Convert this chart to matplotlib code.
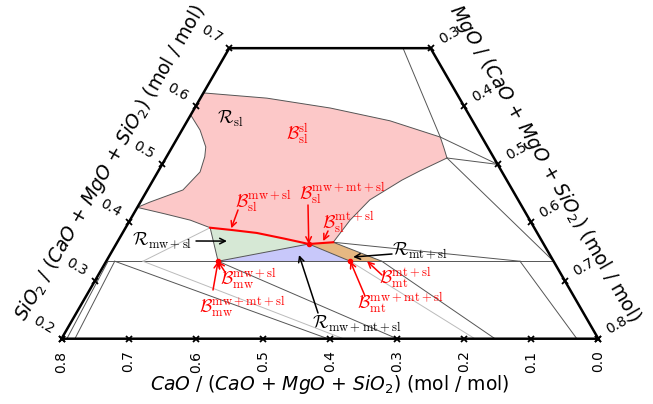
import numpy as np
import matplotlib
matplotlib.use('Agg')
import matplotlib.pyplot as plt

# Compositions are stored as (CaO, SiO2) mole fractions, MgO = 1 - CaO - SiO2
# liquid (sl) region, walked clockwise from the CaO-SiO2 edge
sl_top_cao = [0.377, 0.287, 0.201, 0.123, 0.062, 0.066, 0.070]
sl_top_sio2 = [0.623, 0.614, 0.597, 0.575, 0.547, 0.528, 0.511]
sl_right_cao = [0.070, 0.121, 0.156, 0.221, 0.268, 0.312]
sl_right_sio2 = [0.511, 0.489, 0.473, 0.439, 0.404, 0.366]
sl_red_cao = [0.312, 0.350, 0.381, 0.418, 0.452, 0.483]
sl_red_sio2 = [0.366, 0.363, 0.372, 0.382, 0.387, 0.391]
sl_left_cao = [0.483, 0.506, 0.539, 0.574]
sl_left_sio2 = [0.391, 0.404, 0.415, 0.426]
bulge_cao = [0.574, 0.551, 0.491, 0.450, 0.430, 0.420, 0.414, 0.415]
bulge_sio2 = [0.426, 0.435, 0.456, 0.487, 0.513, 0.530, 0.559, 0.585]

# invariant points and two-phase corners
p_mw = (0.500, 1 / 3)
p_sl3 = (0.350, 0.363)
p_mt = (0.303, 1 / 3)
p_mtsl = (0.312, 0.366)
p_mwsl = (0.483, 0.391)
p_mt_end = (0.256, 1 / 3)

# thin boundary / tie lines
tie_lines = [
    ([0.041, 0.062], [0.700, 0.547]),
    ([0.062, 0.000], [0.547, 0.500]),
    ([0.070, 0.000], [0.511, 0.500]),
    ([0.070, 0.000], [0.511, 1 / 3]),
    ([0.312, 0.050], [0.366, 1 / 3]),
    ([0.050, 0.032], [1 / 3, 0.200]),
    ([0.664, 0.000], [1 / 3, 1 / 3]),
    ([0.664, 0.792], [1 / 3, 0.200]),
    ([0.654, 0.780], [1 / 3, 0.200]),
    ([0.654, 0.403], [1 / 3, 0.200]),
    ([0.500, 0.300], [1 / 3, 0.200]),
    ([0.256, 0.154], [1 / 3, 0.200]),
]
faint_lines = [
    ([0.483, 0.612], [0.391, 1 / 3]),
    ([0.612, 0.380], [1 / 3, 0.200]),
    ([0.303, 0.184], [1 / 3, 0.200]),
]

cao_ticks = [0.8, 0.7, 0.6, 0.5, 0.4, 0.3, 0.2, 0.1, 0.0]
sio2_ticks = [0.2, 0.3, 0.4, 0.5, 0.6, 0.7]
mgo_ticks = [0.3, 0.4, 0.5, 0.6, 0.7, 0.8]

W, H = 653, 404


def xy(cao, sio2):
    cao = np.asarray(cao, dtype=float)
    sio2 = np.asarray(sio2, dtype=float)
    mgo = 1 - cao - sio2
    return mgo + 0.5 * sio2, np.sqrt(3) / 2 * sio2


def fr(px, py):
    # pixel position -> axes fraction, for placing labels
    return px / W, 1 - py / H


fig = plt.figure(figsize=(W / 100, H / 100), dpi=100)
ax = fig.add_axes([0, 0, 1, 1])
ax.set_xlim(0.00835, 0.9815)
ax.set_ylim(0.0759, 0.6780)
ax.set_aspect('equal')
ax.axis('off')

# phase regions
poly_c = sl_top_cao + sl_right_cao + sl_red_cao + sl_left_cao + bulge_cao
poly_s = sl_top_sio2 + sl_right_sio2 + sl_red_sio2 + sl_left_sio2 + bulge_sio2
ax.fill(*xy(poly_c, poly_s), color='#fcc8c8', lw=0)
for c, s in [(sl_top_cao, sl_top_sio2), (sl_right_cao, sl_right_sio2),
             (sl_left_cao, sl_left_sio2), (bulge_cao, bulge_sio2)]:
    ax.plot(*xy(c, s), color='#555555', lw=0.7)

red_c = sl_red_cao[1:]
red_s = sl_red_sio2[1:]
ax.fill(*xy(red_c + [p_mw[0]], red_s + [p_mw[1]]), color='#d6e8d5', lw=0)
ax.fill(*xy([p_sl3[0], p_mw[0], p_mt[0]], [p_sl3[1], p_mw[1], p_mt[1]]),
        color='#c8c8fa', lw=0)
ax.fill(*xy([p_sl3[0], p_mtsl[0], p_mt_end[0], p_mt[0]],
            [p_sl3[1], p_mtsl[1], p_mt_end[1], p_mt[1]]), color='#e6b882', lw=0)
for a, b in [(p_mwsl, p_mw), (p_mw, p_sl3), (p_sl3, p_mt), (p_mtsl, p_mt_end)]:
    ax.plot(*xy([a[0], b[0]], [a[1], b[1]]), color='#555555', lw=0.7)

for c, s in tie_lines:
    ax.plot(*xy(c, s), color='#555555', lw=0.7)
for c, s in faint_lines:
    ax.plot(*xy(c, s), color='#bbbbbb', lw=0.7)

ax.plot(*xy(sl_red_cao, sl_red_sio2), color='red', lw=1.5)
pts = [p_mw, p_sl3, p_mt]
ax.plot(*xy([p[0] for p in pts], [p[1] for p in pts]), 'o', color='red', ms=3)

# frame of the truncated triangle
fc = [0.8, 0.0, 0.0, 0.3, 0.8]
fs = [0.2, 0.2, 0.7, 0.7, 0.2]
ax.plot(*xy(fc, fs), color='black', lw=1.8, solid_joinstyle='miter')

tk = dict(color='black', ms=5, mew=1.3, ls='none', marker='x')
ax.plot(*xy(cao_ticks, [0.2] * len(cao_ticks)), **tk)
ax.plot(*xy([1 - s for s in sio2_ticks], sio2_ticks), **tk)
ax.plot(*xy([0.0] * len(mgo_ticks), [1 - m for m in mgo_ticks]), **tk)

for c in cao_ticks:
    x, y = xy(c, 0.2)
    ax.text(x, y - 0.034, f'{c:.1f}', rotation=90, ha='center', va='center', fontsize=10)
for s in sio2_ticks:
    x, y = xy(1 - s, s)
    ax.text(x - 0.027, y + 0.021, f'{s:.1f}', rotation=-30,
            ha='center', va='center', fontsize=10)
for m in mgo_ticks:
    x, y = xy(0.0, 1 - m)
    ax.text(x + 0.028, y + 0.020, f'{m:.1f}', rotation=30,
            ha='center', va='center', fontsize=10)

lab = dict(fontsize=13.5, ha='center', va='center', math_fontfamily='dejavusans',
           transform=ax.transAxes)
ax.text(*fr(330, 384), r'$CaO$ / $(CaO$ + $MgO$ + $SiO_2)$ (mol / mol)', **lab)
ax.text(*fr(110, 163), r'$SiO_2$ / $(CaO$ + $MgO$ + $SiO_2)$ (mol / mol)', rotation=60, **lab)
ax.text(*fr(545, 163), r'$MgO$ / $(CaO$ + $MgO$ + $SiO_2)$ (mol / mol)', rotation=-60, **lab)


# region and boundary annotations
def note(text, pos, color, start=None, target=None):
    ax.text(*fr(*pos), text, fontsize=13, color=color, ha='center', va='center',
            math_fontfamily='cm', transform=ax.transAxes)
    if target is not None:
        ax.annotate('', xy=xy(*target), xytext=fr(*start), textcoords='axes fraction',
                    arrowprops=dict(arrowstyle='->', color=color, lw=1.1,
                                    shrinkA=0, shrinkB=0))


note(r'$\mathcal{R}_\mathrm{sl}$', (230, 119), 'black')
note(r'$\mathcal{B}_\mathrm{sl}^\mathrm{sl}$', (297, 134), 'red')
note(r'$\mathcal{B}_\mathrm{sl}^\mathrm{mw+sl}$', (263, 201), 'red', (238, 210), (0.452, 0.390))
note(r'$\mathcal{B}_\mathrm{sl}^\mathrm{mw+mt+sl}$', (342, 193), 'red', (308, 205), p_sl3)
note(r'$\mathcal{B}_\mathrm{sl}^\mathrm{mt+sl}$', (348, 222), 'red', (328, 231), (0.326, 0.368))
note(r'$\mathcal{R}_\mathrm{mw+sl}$', (162, 241), 'black', (196, 241), (0.4695, 0.368))
note(r'$\mathcal{R}_\mathrm{mt+sl}$', (420, 251), 'black', (392, 254), (0.295, 0.3406))
note(r'$\mathcal{B}_\mathrm{mw}^\mathrm{mw+sl}$', (248, 279), 'red', (225, 272), p_mw)
note(r'$\mathcal{B}_\mathrm{mw}^\mathrm{mw+mt+sl}$', (242, 307), 'red', (213, 290), p_mw)
note(r'$\mathcal{R}_\mathrm{mw+mt+sl}$', (357, 324), 'black', (318, 313), (0.374, 0.344))
note(r'$\mathcal{B}_\mathrm{mt}^\mathrm{mt+sl}$', (405, 278), 'red', (382, 275), (0.278, 1 / 3))
note(r'$\mathcal{B}_\mathrm{mt}^\mathrm{mw+mt+sl}$', (400, 303), 'red', (365, 296), p_mt)

fig.savefig('out.png', dpi=100)
